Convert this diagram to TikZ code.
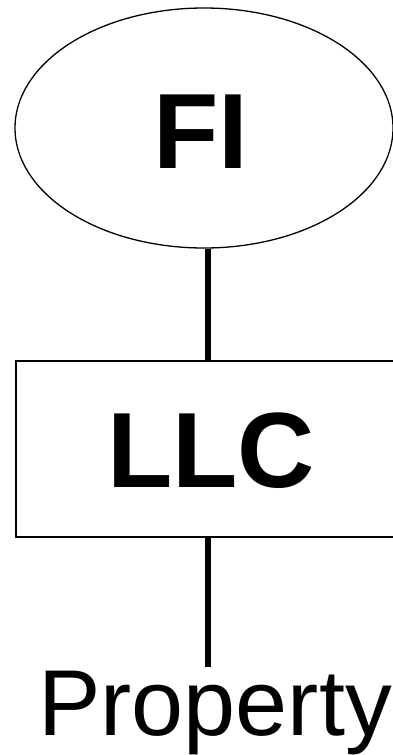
\documentclass[tikz,border=0pt]{standalone}
\usepackage{fontspec}
\setmainfont{Liberation Sans}
\usetikzlibrary{shapes.geometric}

\begin{document}
\begin{tikzpicture}[x=1pt, y=-1pt,
  big/.style={font=\fontsize{107}{107}\selectfont\bfseries},
  link/.style={line width=6.5pt}]
  \useasboundingbox (0, 0) rectangle (393, 755);
  % Top: owner
  \node[draw, ellipse, line width=1.3pt, minimum width=378pt, minimum height=240pt, inner sep=0pt] (fi) at (204, 128) {};
  \node[big] (fitext) at (201, 132) {FI};
  % Middle: company
  \node[draw, line width=2pt, minimum width=384pt, minimum height=176pt, inner sep=0pt] (llc) at (208, 449) {};
  \node[big] (llctext) at (211, 451) {LLC};
  % Bottom: asset
  \node[font=\fontsize{93.6}{93.6}\selectfont, anchor=base, inner sep=3pt] (prop) at (215, 735) {Property};
  \draw[link] (llc.north) -- (llc.north |- fi.south);
  \draw[link] (llc.south) -- (llc.south |- prop.north);
\end{tikzpicture}
\end{document}
